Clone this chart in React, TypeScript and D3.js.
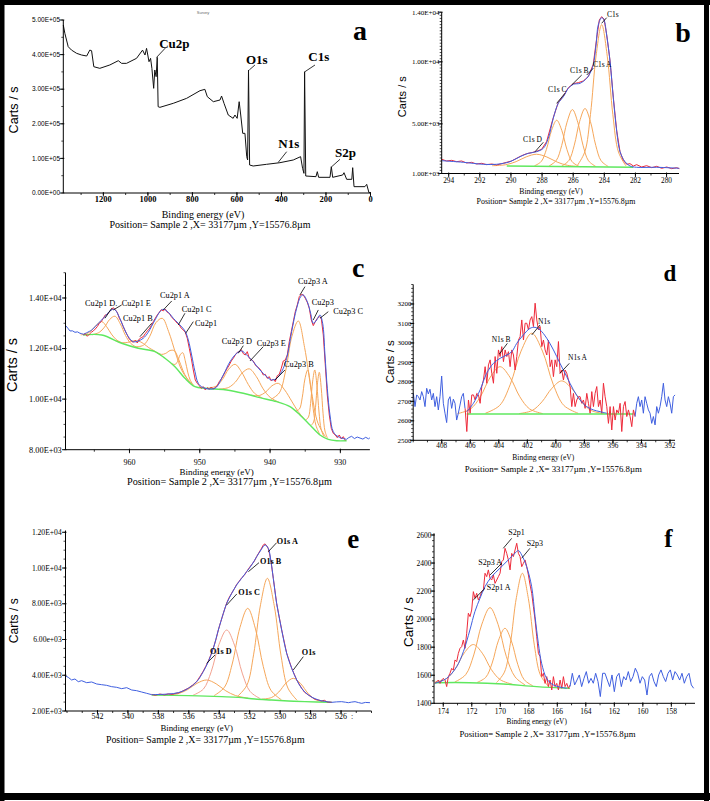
import React from "react";
import * as d3 from "d3";

type Pt = [number, number];
const zip = (xs: number[], ys: number[]): Pt[] => xs.map((x, i) => [x, ys[i]] as Pt);
const grid = (start: number, step: number, ys: number[]): Pt[] => ys.map((y, i) => [start + i * step, y] as Pt);

const SERIF = "'Liberation Serif','Times New Roman',Times,serif";
const SANS = "'Liberation Sans',Arial,Helvetica,sans-serif";
const BLUE = "#3f5fe0";
const RED = "#ee2a3a";
const GREEN = "#5fe85f";
const ORANGE = "#f6a75a";
const PINK = "#f3a290";

// ================= Panel a : survey =================
const surveyEV = [1380,1373,1358,1343,1320,1298,1275,1261,1253,1243,1216,1171,1133,1118,1096,1051,1024,1013,1006,995,988,982,974,969,963,958,954,946,886,826,766,744,733,706,676,669,658,639,617,609,599,590,583,574,564,556,552,548,543,527,467,407,347,314,305,299,296,291,245,239,233,182,176,170,125,119,107,84,80,74,25,17,7,2];
const surveyCounts = [485500,461500,422900,413000,403600,398800,395900,413000,411300,365000,360300,370000,382400,374700,374700,389200,413000,398800,418000,379500,389200,360300,302500,355500,336200,392100,249500,247600,259200,273600,295700,299600,278400,263900,268800,280300,259200,225400,215800,225400,215800,263900,225400,172400,172400,105000,95400,355500,80900,78000,82900,87600,95400,105000,71300,56800,350600,49100,47200,61600,45300,45300,76100,45300,52000,58700,39500,39500,73200,18300,18300,25000,1000,1000];
const aXTicks = [1200,1000,800,600,400,200,0];
const aYTicks = [0,100000,200000,300000,400000,500000];
const aYLabels = ["0.00E+00","1.00E+05","2.00E+05","3.00E+05","4.00E+05","5.00E+05"];
const aAnnText = ["Cu2p","O1s","C1s","N1s","S2p"];
const aAnnAt: Pt[] = [[949,420500],[559.6,372800],[279.6,381500],[414.4,130000],[159.6,104000]];
const aAnnFrom: Pt[] = [[961,392000],[544.7,355500],[294.4,350600],[414.4,88700],[174.4,76000]];
const aAnnTo: Pt[] = [[920,420000],[519.1,369900],[249.4,369900],[376.6,119400],[137.1,97400]];

// ================= Panel b : C1s =================
const bEnvEV = [294.45,293.06,291.77,290.92,290.06,289.42,288.88,288.35,287.92,287.6,287.28,286.96,286.63,286.31,285.99,285.56,285.13,284.92,284.71,284.53,284.39,284.17,284.02,283.85,283.63,283.42,283.2,282.99,282.67,282.35,281.92,280.63,279.18];
const bEnvCounts = [2034,1903,1742,1742,1951,2354,2628,2757,3031,3837,5449,6658,7190,7867,8190,8270,8673,9076,9745,11357,12969,13557,13372,12163,10011,7061,4369,2757,1951,1605,1500,1500,1419];
const bRaw: Pt[] = [[294.45,2142],[294.13,2008],[293.81,2061],[293.49,1954],[293.17,2008],[292.85,1846],[292.53,1900],[292.21,1766],[291.88,1820],[291.56,1712],[291.24,1766],[290.92,1685],[290.6,1793],[290.28,1900],[289.96,2008],[289.64,2223],[289.31,2438],[288.99,2599],[288.67,2679],[288.35,2787],[288.03,2948],[287.71,3566],[287.28,5501],[286.96,6710],[286.63,7247],[286.31,7919],[285.99,8241],[285.67,8322],[285.35,8456],[285.03,8806],[284.71,9800],[284.49,11896],[284.32,13374],[284.17,13642],[284.02,13454],[283.85,12218],[283.63,10069],[283.42,7113],[283.2,4426],[282.99,2760],[282.78,2061],[282.56,1739],[282.35,1793],[282.13,1605],[281.92,1712],[281.6,1524],[281.28,1631],[280.95,1470],[280.63,1578],[280.31,1416],[279.99,1524],[279.67,1390],[279.35,1470],[279.18,1390]];
const bBackground: Pt[] = [[290.27,1604],[282.14,1500]];
const bCompD = zip([285.49,286.37,287.03,287.69,288.35,289.01,289.67,290.33,291.21],[1553,1659,1921,2329,2551,2346,1956,1710,1627]);
const bCompC = zip([285.63,286.07,286.4,286.73,287.06,287.39,287.72,288.05,288.49],[1580,1947,2929,4466,5294,4475,2946,1972,1617]);
const bCompB = zip([284.555,285.015,285.36,285.705,286.05,286.395,286.74,287.085,287.545],[1574,2026,3235,5130,6151,5139,3253,2052,1612]);
const bCompA = zip([283.745,284.205,284.55,284.895,285.24,285.585,285.93,286.275,286.735],[1564,2025,3262,5197,6241,5206,3280,2052,1603]);
const bCompMain = zip([282.61,283.09,283.45,283.81,284.17,284.53,284.89,285.25,285.73],[1613,2729,5739,10457,12997,10467,5757,2757,1653]);
const bXTicks = [294,292,290,288,286,284,282,280];
const bYTicks = [1000,5000,10000,14000];
const bYLabels = ["1.00E+03","5.00E+03","1.00E+04","1.40E+04"];
const bAnnText = ["C1s","C1s A","C1s B","C1s C","C1s D"];
const bAnnAt: Pt[] = [[283.83,13638],[284.73,9608],[286.2,9124],[287.62,7593],[289.23,3563]];
const bAnnFrom: Pt[] = [[284.17,13106],[285.13,8939],[286.1,8133],[287.06,6658],[288.45,2757]];
const bAnnTo: Pt[] = [[283.85,13557],[284.71,9479],[285.45,8939],[286.53,7464],[287.92,3515]];

// ================= Panel c : Cu2p =================
const cRawStart = 966.57;
const cRawStep = -0.2845;
const cRawCounts = [12538,12590,12485,12564,12643,12696,12775,12867,12999,13065,13197,13329,13355,13461,13527,13619,13527,13434,13197,13065,12867,12696,12538,12379,12300,12248,12327,12221,12379,12432,12472,12590,12696,12775,12907,13065,13197,13329,13434,13540,13487,13566,13434,13395,13263,13171,13092,12999,12933,12801,12736,12643,12406,12010,11615,11153,10757,10626,10533,10428,10494,10362,10454,10388,10480,
  10401,10454,10533,10691,10797,10929,11087,11219,11351,11509,11615,11746,11852,11878,11957,11799,11746,11878,11615,11562,11509,11351,11272,11219,11113,10955,10982,10823,10889,10718,10797,10691,10929,10982,11219,11509,11549,11746,12274,12670,13065,13461,13724,14054,14146,14120,13988,13830,13593,13131,12907,13065,13197,13263,13197,12538,11351,10164,9373,8845,8647,8582,8476,8582,8423,8516,8371];
const cEnv: Pt[] = [[966.57,12564],[965.38,12735],[964.43,13000],[963.49,13262],[962.77,13487],[962.16,13554],[961.59,13329],[960.88,12866],[960.17,12470],[959.46,12272],[958.75,12300],[958.04,12407],[957.33,12644],[956.37,13131],[955.66,13459],[955.19,13554],[954.48,13435],[953.77,13198],[953.06,13000],[952.11,12696],[951.63,12340],[951.16,11746],[950.68,11086],[950.21,10627],[949.5,10453],[947.84,10429],[946.66,10955],[945.7,11481],[944.75,11813],[944.04,11905],[943.33,11746],[942.39,11481],[941.44,11153],[940.48,10888],[939.77,10757],[939.06,10825],[938.35,11086],[937.64,11616],[936.93,12668],[936.22,13594],[935.65,14053],[935.28,14120],[934.71,13855],[934.23,13396],[933.86,13000],[933.37,13131],[932.9,13329],[932.52,13000],[932.19,11746],[931.86,10429],[931.48,9373],[931.01,8712],[930.3,8514],[929.11,8411]];
const cBlueLeft: Pt[] = [[969.08,12907],[968.75,12800],[968.46,12696],[968.1,12700],[967.75,12643],[967.4,12660],[967.04,12604],[966.8,12590],[966.57,12564]];
const cBlueRight: Pt[] = [[929.11,8411],[928.8,8480],[928.4,8530],[928.0,8440],[927.6,8500],[927.2,8460],[926.8,8420],[926.4,8490],[926.0,8430],[925.8,8470]];
const cBackground: Pt[] = [[966.57,12537],[963.95,12537],[961.11,12209],[958.75,12011],[956.37,11877],[954.95,11616],[953.53,11283],[952.11,10824],[950.68,10492],[949.26,10429],[947.84,10401],[946.17,10362],[943.81,10231],[941.44,10057],[939.06,9899],[937.17,9701],[935.75,9373],[934.32,8977],[932.9,8581],[931.72,8411],[930.53,8356],[929.11,8356]];
const cCu2p1D = zip([960.96,961.88,962.57,963.26,963.95,964.64,965.33,966.02,966.94],[12201,12354,12573,12870,13067,12950,12732,12593,12542]);
const cCu2p1E = zip([958.81,959.81,960.56,961.31,962.06,962.81,963.56,964.31,965.31],[12025,12202,12516,12980,13279,13153,12845,12639,12546]);
const cCu2p1B = zip([955.5,956.5,957.25,958.0,958.75,959.5,960.25,961.0,962.0],[11720,11915,12034,12195,12301,12300,12244,12231,12315]);
const cCu2p1A = zip([951.43,952.53,953.43,954.43,955.33,956.23,957.13,958.03,959.23],[10680,11120,11807,12670,13196,13027,12476,12130,12065]);
const cCu2p1C = zip([951.03,951.83,952.43,953.03,953.63,954.23,954.83,955.43,956.23],[10579,10824,11151,11596,11916,11922,11812,11769,11857]);
const cCu2p1 = zip([950.87,951.35,951.71,952.07,952.43,952.79,953.15,953.51,953.99],[10544,10744,11066,11524,11837,11752,11495,11372,11404]);
const cCu2p3D = zip([941.09,942.19,943.09,944.09,944.99,945.89,946.79,947.69,948.89],[10044,10226,10575,11088,11377,11187,10773,10512,10432]);
const cCu2p3E = zip([938.67,939.99,940.98,941.97,942.96,943.95,944.94,945.93,947.25],[9867,10070,10405,10898,11199,11041,10673,10458,10396]);
const cCu2p3X = zip([934.93,936.03,936.93,937.93,938.83,939.73,940.63,941.53,942.73],[9153,9518,9922,10365,10625,10527,10279,10144,10159]);
const cCu2p3A = zip([932.09,933.19,934.09,935.09,935.99,936.89,937.79,938.69,939.89],[8498,9051,10261,12043,13091,12489,11114,10249,9988]);
const cCu2p3B = zip([932.96,933.48,933.87,934.26,934.65,935.04,935.43,935.82,936.34],[8617,8964,9619,10585,11153,10800,10051,9610,9528]);
const cCu2p3 = zip([932.34,932.74,933.04,933.34,933.64,933.94,934.24,934.54,934.94],[8522,8809,9491,10547,11153,10714,9826,9289,9171]);
const cCu2p3C = zip([931.83,932.19,932.46,932.73,933.0,933.27,933.54,933.81,934.17],[8450,8739,9421,10468,11062,10595,9663,9095,8958]);
const cXTicks = [960,950,940,930];
const cYTicks = [8000,10000,12000,14000];
const cYLabels = ["8.00E+03","1.00E+04","1.20E+04","1.40E+04"];
const cAnnText = ["Cu2p1 D.","Cu2p1 E","Cu2p1 B","Cu2p1 A","Cu2p1 C","Cu2p1","Cu2p3 A","Cu2p3","Cu2p3 C","Cu2p3 D","Cu2p3 E","Cu2p3 B"];
const cAnnAt: Pt[] = [[966.33,13685],[961.11,13685],[960.92,13091],[955.66,13981],[952.57,13447],[950.68,12894],[936.03,14555],[934.08,13705],[931.01,13349],[946.88,12181],[941.91,12083],[938.02,11252]];
const cAnnFrom: Pt[] = [[963.49,13198],[962.3,13527],[958.51,12470],[955.19,13527],[953.06,12933],[952.01,12605],[935.75,14120],[933.86,13131],[932.9,13198],[944.52,11814],[942.86,11509],[939.3,10757]];
const cAnnTo: Pt[] = [[962.53,13594],[961.11,13724],[956.84,13000],[953.99,13882],[952.11,13396],[950.92,13064],[935.04,14448],[933.14,13527],[931.72,13459],[943.81,12114],[940.97,12075],[937.88,11153]];

// ================= Panel d : N1s =================
const dStep = -0.1168;
const dBlueLeftStart = 409.99;
const dBlueLeftCounts = [2741,2673,2733,2724,2707,2750,2724,2673,2767,2738,2762,2707,2741,2673,2724,2656,2724,2830,2690,2639,2591,2707,2724,2664,2711,2690,2604,2639,2681,2724,2741,2664];
const dRawStart = 406.36;
const dRawCounts = [2664,2545,2707,2639,2733,2733,2707,2741,2733,2690,2776,2810,2878,2793,2887,2913,2844,2793,2930,2844,2964,2930,2981,2904,2964,2930,2955,2878,2964,2938,2861,2930,3015,3032,3118,3015,3101,3101,3067,3118,3135,3084,3204,3118,3067,3084,2981,3015,2964,2938,3015,2878,2913,2827,2913,2878,3007,2844,2861,2810,2861,2844,2810,2776,2673,2741,2673,2707,2724,2724,2690,2707,2664,2741,2690,2639,2750,2673,2741,2776,2673,2707,2639,2793,2724,2673,2587,2673,2553,2673,2604,2656,2639,2690,2545,2673,2699,2622,2656,2622,2570,2656,2622];
const dBlueRightStart = 394.45;
const dBlueRightCounts = [2622,2690,2724,2673,2707,2639,2724,2690,2656,2639,2587,2622,2579,2673,2639,2673,2724,2793,2707,2673,2724,2690,2639,2724,2733];
const dEnvEV = [406.25,405.78,405.31,404.85,404.38,403.91,403.44,403.09,402.74,402.28,401.81,401.46,401.11,400.64,400.17,399.71,399.24,398.77,398.3,397.84,397.37,396.9,396.43];
const dEnvCounts = [2647,2690,2759,2844,2895,2921,2938,2955,2998,3041,3075,3080,3067,3024,2964,2895,2827,2759,2707,2673,2656,2647,2639];
const dBackground: Pt[] = [[406.25,2635],[394.57,2635]];
const dN1sB = zip([400.92,401.84,402.53,403.22,403.91,404.6,405.29,405.98,406.9],[2637,2661,2724,2824,2878,2824,2724,2661,2637]);
const dN1s = zip([398.44,399.44,400.19,400.94,401.69,402.44,403.19,403.94,404.94],[2639,2679,2788,2958,3050,2958,2788,2679,2639]);
const dN1sA = zip([396.6,397.52,398.21,398.9,399.59,400.28,400.97,401.66,402.58],[2637,2653,2698,2767,2805,2767,2698,2653,2637]);
const dXTicks = [408,406,404,402,400,398,396,394,392];
const dYTicks = [2500,2600,2700,2800,2900,3000,3100,3200];
const dAnnText = ["N1s B","N1s","N1s A"];
const dAnnAt: Pt[] = [[404.5,3005],[401.25,3095],[399.15,2912]];
const dAnnFrom: Pt[] = [[403.96,2943],[401.69,3041],[399.71,2844]];
const dAnnTo: Pt[] = [[403.4,2998],[401.11,3092],[399.06,2895]];

// ================= Panel e : O1s =================
const eBlueLeft: Pt[] = [[544.09,3959],[543.92,3884],[543.70,3735],[543.48,3791],[543.26,3641],[543.04,3697],[542.71,3585],[542.38,3623],[542.05,3511],[541.73,3473],[541.40,3436],[541.07,3362],[540.74,3325],[540.41,3250],[540.08,3306],[539.75,3175],[539.43,3138],[539.10,3063],[538.77,2989],[538.44,2914]];
const eEnv: Pt[] = [[538.44,2914],[537.35,2951],[536.69,3026],[536.03,3269],[535.48,3641],[535.05,4201],[534.72,4761],[534.39,5507],[534.06,6533],[533.73,7466],[533.51,8025],[533.18,8585],[532.86,9051],[532.53,9424],[532.2,9797],[531.87,10170],[531.54,10636],[531.26,11010],[530.99,11289],[530.78,11103],[530.6,10357],[530.45,9424],[530.23,8025],[529.9,6533],[529.57,5227],[529.24,4388],[528.91,3735],[528.59,3269],[528.15,2895],[527.49,2616],[526.61,2485]];
const eBlueRight: Pt[] = [[526.61,2485],[526.3,2510],[525.96,2522],[525.7,2490],[525.52,2466],[525.3,2500],[525.08,2522],[524.85,2470],[524.64,2429],[524.4,2480],[524.1,2466]];
const eRaw: Pt[] = [[538.44,2930],[538.2,2880],[537.9,2950],[537.6,2900],[537.35,2960],[537.1,2930],[536.85,2990],[536.69,3010],[536.4,3120],[536.03,3280],[535.75,3450],[535.48,3650],[535.25,3950],[535.05,4230],[534.9,4480],[534.72,4780],[534.55,5150],[534.39,5520],[534.2,6050],[534.06,6540],[533.9,7000],[533.73,7470],[533.51,8050],[533.35,8350],[533.18,8600],[533.0,8850],[532.86,9080],[532.7,9250],[532.53,9450],[532.35,9600],[532.2,9800],[532.0,10050],[531.87,10200],[531.7,10380],[531.54,10650],[531.4,10850],[531.26,11050],[531.1,11300],[530.99,11350],[530.85,11200],[530.78,11080],[530.7,10800],[530.6,10350],[530.45,9420],[530.23,8020],[529.9,6540],[529.57,5230],[529.24,4390],[528.91,3730],[528.59,3280],[528.4,3050],[528.15,2900],[527.9,2760],[527.7,2650],[527.49,2620],[527.3,2560],[527.1,2600],[526.9,2500],[526.61,2490]];
const eBackground: Pt[] = [[538.44,2895],[536.03,2858],[533.84,2802],[532.75,2765],[531.65,2672],[530.56,2616],[529.46,2560],[528.37,2522],[526.61,2485]];
const eO1sD = zip([532.1,532.94,533.57,534.2,534.83,535.46,536.09,536.72,537.56],[2718,2867,3129,3518,3735,3550,3193,2965,2889]);
const eO1sX = zip([531.3,531.98,532.49,533.0,533.51,534.02,534.53,535.04,535.72],[2688,3097,4120,5688,6533,5722,4197,3230,2884]);
const eO1sC = zip([529.92,530.6,531.11,531.62,532.13,532.64,533.15,533.66,534.34],[2629,3151,4496,6590,7745,6676,4630,3330,2861]);
const eO1sB = zip([528.89,529.49,529.94,530.39,530.84,531.29,531.74,532.19,532.79],[2603,3282,5084,7900,9424,7946,5180,3438,2829]);
const eO1s = zip([527.05,527.69,528.17,528.65,529.13,529.61,530.09,530.57,531.21],[2506,2644,2989,3529,3828,3565,3063,2753,2661]);
const eXTicks = [542,540,538,536,534,532,530,528,526];
const eYTicks = [2000,4000,6000,8000,10000,12000];
const eYLabels = ["2.00E+03","4.00E+03","6.00e+03","8.00E+03","1.00E+04","1.20E+04"];
const eAnnText = ["O1s A","O1s B","O1s C","O1s D","O1s"];
const eAnnAt: Pt[] = [[530.23,11362],[531.32,10243],[532.75,8508],[534.61,5190],[528.58,5117]];
const eAnnFrom: Pt[] = [[530.78,10914],[532.09,9795],[533.51,7932],[534.83,4669],[529.14,4294]];
const eAnnTo: Pt[] = [[530.23,11418],[531.39,10299],[532.85,8548],[534.28,5134],[528.48,5039]];

// ================= Panel f : S2p =================
const fRawStart = 174.58;
const fRawStep = -0.117;
const fRawCounts = [1542,1554,1566,1542,1566,1578,1566,1519,1590,1614,1649,1637,1709,1697,1756,1792,1804,1851,1792,1899,2042,2018,2065,2196,2149,2184,2137,2160,2196,2208,2327,2303,2351,2291,2279,2315,2255,2279,2303,2327,2410,2422,2505,2469,2422,2351,2469,2446,2493,2541,2469,2446,2374,2398,2422,2374,2315,2244,2184,2089,1994,1875,1756,1733,1590,1614,1542,1590,1519,1566,1495,1590,1519,1542,1495,1566,1507,1590,1519,1542,1507,1530];
const fBlueStart = 165.11;
const fBlueStep = -0.1637;
const fBlueCounts = [1519,1614,1531,1566,1602,1519,1578,1626,1543,1578,1543,1614,1555,1448,1614,1614,1566,1519,1602,1483,1590,1614,1519,1590,1566,1626,1555,1590,1650,1614,1543,1590,1566,1459,1590,1614,1555,1519,1602,1638,1590,1555,1614,1638,1566,1626,1602,1566,1614,1543,1590,1614,1531,1507];
const fEnvEV = [174.58,173.76,173.06,172.59,172.13,171.78,171.42,171.07,170.61,170.02,169.44,168.97,168.73,168.5,168.15,167.8,167.56,167.33,167.1,166.75,166.28,165.34];
const fEnvCounts = [1543,1578,1661,1768,1923,2054,2149,2232,2303,2363,2422,2470,2489,2458,2374,2232,2018,1828,1685,1578,1531,1507];
const fBackground: Pt[] = [[174.58,1547],[172.13,1547],[169.79,1538],[167.45,1519],[165.11,1507]];
const fS1 = zip([169.16,170.0,170.63,171.26,171.89,172.52,173.15,173.78,174.62],[1536,1568,1641,1757,1819,1760,1647,1576,1550]);
const fS2 = zip([168.25,168.96,169.58,170.15,170.72,171.29,171.86,172.43,173.19],[1530,1588,1735,1961,2082,1965,1745,1604,1552]);
const fS3 = zip([167.72,168.32,168.77,169.22,169.67,170.12,170.57,171.02,171.62],[1525,1568,1676,1844,1935,1850,1687,1585,1549]);
const fS4 = zip([166.63,167.19,167.61,168.03,168.45,168.87,169.29,169.71,170.27],[1522,1603,1814,2147,2327,2154,1828,1622,1547]);
const fXTicks = [174,172,170,168,166,164,162,160,158];
const fYTicks = [1400,1600,1800,2000,2200,2400,2600];
const fAnnText = ["S2p1","S2p3","S2p3 A","S2p1 A"];
const fAnnAt: Pt[] = [[169.44,2602],[168.15,2524],[171.54,2388],[170.95,2210]];
const fAnnFrom: Pt[] = [[169.79,2505],[168.5,2434],[170.72,2315],[171.89,2137]];
const fAnnTo: Pt[] = [[169.2,2576],[167.92,2505],[169.9,2398],[171.07,2220]];

const POSITION = "Position= Sample 2 ,X= 33177\u00b5m ,Y=15576.8\u00b5m";

// ================= Drawing =================
interface LineSpec { pts: Pt[]; color: string; w?: number; smooth?: boolean }
interface TextSpec { t: string; x: number; y: number; size: number; font: string; bold?: boolean; anchor?: string; rotate?: boolean; fill?: string }
interface PanelSpec {
  key: string;
  x: [number, number]; xr: [number, number];
  y: [number, number]; yr: [number, number];
  xTicks: number[]; xMinor: number; xLabelY: number; xLabelSize: number; xLabelBold?: boolean;
  yTicks: number[]; yLabels: string[]; yMinor: number; yLabelX: number; yLabelSize: number; yLabelFont: string;
  lines: LineSpec[];
  annText: string[]; annAt: Pt[]; annFrom: Pt[]; annTo: Pt[]; annSize: number; annBold?: boolean;
  texts: TextSpec[];
}

function Panel({ s }: { s: PanelSpec }) {
  const sx = d3.scaleLinear().domain(s.x).range(s.xr);
  const sy = d3.scaleLinear().domain(s.y).range(s.yr);
  const mk = (smooth?: boolean) =>
    d3.line<Pt>().x((d) => sx(d[0])).y((d) => sy(d[1])).curve(smooth ? d3.curveCatmullRom.alpha(0.5) : d3.curveLinear);
  const [xa, xb] = s.xr;
  const [ya, yb] = s.yr;
  const xlo = Math.min(s.x[0], s.x[1]);
  const xhi = Math.max(s.x[0], s.x[1]);
  const xMinor = d3.range(Math.ceil(xlo / s.xMinor - 1e-9) * s.xMinor, xhi + 1e-9, s.xMinor);
  const yMinor = d3.range(Math.ceil(s.y[0] / s.yMinor - 1e-9) * s.yMinor, s.y[1] + 1e-9, s.yMinor);
  return (
    <g>
      {s.lines.map((l, i) => (
        <path key={"l" + i} d={mk(l.smooth)(l.pts) || ""} fill="none" stroke={l.color} strokeWidth={l.w ?? 1} strokeLinejoin="round" />
      ))}
      <line x1={xa} y1={ya} x2={xb} y2={ya} stroke="#000" strokeWidth={1} />
      <line x1={xa} y1={ya} x2={xa} y2={yb} stroke="#000" strokeWidth={1} />
      {xMinor.map((v, i) => (
        <line key={"xm" + i} x1={sx(v)} x2={sx(v)} y1={ya} y2={ya + 2} stroke="#000" strokeWidth={0.8} />
      ))}
      {s.xTicks.map((v, i) => (
        <g key={"xt" + i}>
          <line x1={sx(v)} x2={sx(v)} y1={ya - 1} y2={ya + 3.5} stroke="#000" strokeWidth={0.9} />
          <text x={sx(v)} y={s.xLabelY} textAnchor="middle" fontFamily={SERIF} fontSize={s.xLabelSize} fontWeight={s.xLabelBold ? "bold" : "normal"}>{String(v)}</text>
        </g>
      ))}
      {yMinor.map((v, i) => (
        <line key={"ym" + i} x1={xa - 2} x2={xa} y1={sy(v)} y2={sy(v)} stroke="#000" strokeWidth={0.7} />
      ))}
      {s.yTicks.map((v, i) => (
        <g key={"yt" + i}>
          <line x1={xa - 3.5} x2={xa + 1} y1={sy(v)} y2={sy(v)} stroke="#000" strokeWidth={0.9} />
          <text x={s.yLabelX} y={sy(v)} dy="0.35em" textAnchor="end" fontFamily={s.yLabelFont} fontSize={s.yLabelSize}>{s.yLabels[i]}</text>
        </g>
      ))}
      {s.annText.map((t, i) => (
        <g key={"an" + i}>
          <line x1={sx(s.annFrom[i][0])} y1={sy(s.annFrom[i][1])} x2={sx(s.annTo[i][0])} y2={sy(s.annTo[i][1])} stroke="#000" strokeWidth={0.8} />
          <text x={sx(s.annAt[i][0])} y={sy(s.annAt[i][1])} fontFamily={SERIF} fontSize={s.annSize} fontWeight={s.annBold ? "bold" : "normal"}>{t}</text>
        </g>
      ))}
      {s.texts.map((t, i) =>
        t.rotate ? (
          <text key={"tx" + i} transform={`translate(${t.x},${t.y}) rotate(-90)`} textAnchor="middle" dominantBaseline="central" fontFamily={t.font} fontSize={t.size} fontWeight={t.bold ? "bold" : "normal"} fill={t.fill || "#000"}>{t.t}</text>
        ) : (
          <text key={"tx" + i} x={t.x} y={t.y} textAnchor={t.anchor || "middle"} fontFamily={t.font} fontSize={t.size} fontWeight={t.bold ? "bold" : "normal"} fill={t.fill || "#000"}>{t.t}</text>
        )
      )}
    </g>
  );
}

const panels: PanelSpec[] = [
  {
    key: "a",
    x: [1380, 0], xr: [63.3, 370.5], y: [0, 500000], yr: [193, 20],
    xTicks: aXTicks, xMinor: 100, xLabelY: 201.5, xLabelSize: 8.5, xLabelBold: true,
    yTicks: aYTicks, yLabels: aYLabels, yMinor: 50000, yLabelX: 60, yLabelSize: 6.5, yLabelFont: SANS,
    lines: [{ pts: zip(surveyEV, surveyCounts), color: "#111", w: 1 }],
    annText: aAnnText, annAt: aAnnAt, annFrom: aAnnFrom, annTo: aAnnTo, annSize: 13, annBold: true,
    texts: [
      { t: "a", x: 360, y: 39.5, size: 28, font: SERIF, bold: true },
      { t: "Carts / s", x: 14, y: 110, size: 12.6, font: SANS, rotate: true },
      { t: "Binding energy (eV)", x: 203, y: 217.5, size: 10, font: SERIF },
      { t: POSITION, x: 210, y: 227.5, size: 10, font: SERIF },
      { t: "Survey", x: 203, y: 14, size: 4, font: SANS, fill: "#666" },
    ],
  },
  {
    key: "b",
    x: [294.45, 279.2], xr: [441.7, 679], y: [1000, 14000], yr: [173.5, 12.2],
    xTicks: bXTicks, xMinor: 1, xLabelY: 182.5, xLabelSize: 7.3,
    yTicks: bYTicks, yLabels: bYLabels, yMinor: 250, yLabelX: 439.5, yLabelSize: 7, yLabelFont: SERIF,
    lines: [
      { pts: bCompD, color: ORANGE, smooth: true },
      { pts: bCompC, color: ORANGE, smooth: true },
      { pts: bCompB, color: ORANGE, smooth: true },
      { pts: bCompA, color: ORANGE, smooth: true },
      { pts: bCompMain, color: ORANGE, smooth: true },
      { pts: bBackground, color: GREEN, w: 1.4 },
      { pts: bRaw, color: RED, w: 1 },
      { pts: zip(bEnvEV, bEnvCounts), color: BLUE, w: 1, smooth: true },
    ],
    annText: bAnnText, annAt: bAnnAt, annFrom: bAnnFrom, annTo: bAnnTo, annSize: 7.5,
    texts: [
      { t: "b", x: 683, y: 41.5, size: 28, font: SERIF, bold: true },
      { t: "Carts / s", x: 401.7, y: 96.7, size: 11, font: SANS, rotate: true },
      { t: "Binding energy (eV)", x: 551, y: 194.2, size: 7.7, font: SERIF },
      { t: POSITION, x: 556, y: 204.4, size: 7.9, font: SERIF },
    ],
  },
  {
    key: "c",
    x: [969.1, 925.8], xr: [65.5, 369.9], y: [8000, 15000], yr: [449.7, 272.7],
    xTicks: cXTicks, xMinor: 5, xLabelY: 464.5, xLabelSize: 8, 
    yTicks: cYTicks, yLabels: cYLabels, yMinor: 500, yLabelX: 61.7, yLabelSize: 8.3, yLabelFont: SERIF,
    lines: [
      { pts: cCu2p1D, color: ORANGE, smooth: true },
      { pts: cCu2p1E, color: ORANGE, smooth: true },
      { pts: cCu2p1B, color: ORANGE, smooth: true },
      { pts: cCu2p1A, color: ORANGE, smooth: true },
      { pts: cCu2p1C, color: ORANGE, smooth: true },
      { pts: cCu2p1, color: ORANGE, smooth: true },
      { pts: cCu2p3D, color: ORANGE, smooth: true },
      { pts: cCu2p3E, color: ORANGE, smooth: true },
      { pts: cCu2p3X, color: ORANGE, smooth: true },
      { pts: cCu2p3A, color: ORANGE, smooth: true },
      { pts: cCu2p3B, color: ORANGE, smooth: true },
      { pts: cCu2p3, color: ORANGE, smooth: true },
      { pts: cCu2p3C, color: ORANGE, smooth: true },
      { pts: cBackground, color: GREEN, w: 1.4, smooth: true },
      { pts: grid(cRawStart, cRawStep, cRawCounts), color: RED, w: 1 },
      { pts: cEnv, color: BLUE, w: 1, smooth: true },
      { pts: cBlueLeft, color: BLUE, w: 1 },
      { pts: cBlueRight, color: BLUE, w: 1 },
    ],
    annText: cAnnText, annAt: cAnnAt, annFrom: cAnnFrom, annTo: cAnnTo, annSize: 8.3,
    texts: [
      { t: "c", x: 358.3, y: 276.5, size: 28, font: SERIF, bold: true },
      { t: "Carts / s", x: 12, y: 365, size: 14.5, font: SANS, rotate: true },
      { t: "Binding energy (eV)", x: 216.7, y: 474.7, size: 9, font: SERIF },
      { t: POSITION, x: 229.5, y: 485, size: 10.2, font: SERIF },
    ],
  },
  {
    key: "d",
    x: [410, 391.65], xr: [413.2, 675], y: [2500, 3300], yr: [440.3, 284.5],
    xTicks: dXTicks, xMinor: 1, xLabelY: 447.8, xLabelSize: 7.2,
    yTicks: dYTicks, yLabels: dYTicks.map(String), yMinor: 20, yLabelX: 411.5, yLabelSize: 7, yLabelFont: SERIF,
    lines: [
      { pts: dN1sB, color: ORANGE, smooth: true },
      { pts: dN1s, color: ORANGE, smooth: true },
      { pts: dN1sA, color: ORANGE, smooth: true },
      { pts: dBackground, color: GREEN, w: 1.4 },
      { pts: grid(dBlueLeftStart, dStep, dBlueLeftCounts), color: BLUE, w: 1 },
      { pts: grid(dRawStart, dStep, dRawCounts), color: RED, w: 1 },
      { pts: grid(dBlueRightStart, dStep, dBlueRightCounts), color: BLUE, w: 1 },
      { pts: zip(dEnvEV, dEnvCounts), color: BLUE, w: 1, smooth: true },
    ],
    annText: dAnnText, annAt: dAnnAt, annFrom: dAnnFrom, annTo: dAnnTo, annSize: 7.5,
    texts: [
      { t: "d", x: 670, y: 280.5, size: 23, font: SERIF, bold: true },
      { t: "Carts / s", x: 389, y: 361.7, size: 11.6, font: SANS, rotate: true },
      { t: "Binding energy (eV)", x: 543.3, y: 459.8, size: 7.5, font: SERIF },
      { t: POSITION, x: 553.3, y: 472, size: 8.8, font: SERIF },
    ],
  },
  {
    key: "e",
    x: [544.1, 524.0], xr: [65.5, 371.5], y: [2000, 12100], yr: [711, 530.5],
    xTicks: eXTicks, xMinor: 1, xLabelY: 719, xLabelSize: 8,
    yTicks: eYTicks, yLabels: eYLabels, yMinor: 500, yLabelX: 61.7, yLabelSize: 7.6, yLabelFont: SERIF,
    lines: [
      { pts: eO1sD, color: ORANGE, smooth: true },
      { pts: eO1sX, color: PINK, smooth: true },
      { pts: eO1sC, color: ORANGE, smooth: true },
      { pts: eO1sB, color: ORANGE, smooth: true },
      { pts: eO1s, color: ORANGE, smooth: true },
      { pts: eBackground, color: GREEN, w: 1.4, smooth: true },
      { pts: eBlueLeft, color: BLUE, w: 1 },
      { pts: eRaw, color: RED, w: 1 },
      { pts: eEnv, color: BLUE, w: 1, smooth: true },
      { pts: eBlueRight, color: BLUE, w: 1 },
    ],
    annText: eAnnText, annAt: eAnnAt, annFrom: eAnnFrom, annTo: eAnnTo, annSize: 8.2, annBold: true,
    texts: [
      { t: "e", x: 353.3, y: 547.5, size: 27, font: SERIF, bold: true },
      { t: "Carts / s", x: 14, y: 620.8, size: 12.1, font: SANS, rotate: true },
      { t: "Binding energy (eV)", x: 196.7, y: 731.2, size: 8.8, font: SERIF },
      { t: POSITION, x: 205.3, y: 742.6, size: 9.9, font: SERIF },
      { t: ":", x: 352, y: 719, size: 8, font: SERIF },
    ],
  },
  {
    key: "f",
    x: [174.65, 156.34], xr: [434, 695], y: [1400, 2612], yr: [703.3, 533.3],
    xTicks: fXTicks, xMinor: 1, xLabelY: 714, xLabelSize: 7.5,
    yTicks: fYTicks, yLabels: fYTicks.map(String), yMinor: 40, yLabelX: 431.5, yLabelSize: 7.5, yLabelFont: SERIF,
    lines: [
      { pts: fS1, color: ORANGE, smooth: true },
      { pts: fS2, color: ORANGE, smooth: true },
      { pts: fS3, color: ORANGE, smooth: true },
      { pts: fS4, color: ORANGE, smooth: true },
      { pts: fBackground, color: GREEN, w: 1.4, smooth: true },
      { pts: grid(fRawStart, fRawStep, fRawCounts), color: RED, w: 1 },
      { pts: grid(fBlueStart, fBlueStep, fBlueCounts), color: BLUE, w: 1 },
      { pts: zip(fEnvEV, fEnvCounts), color: BLUE, w: 1, smooth: true },
    ],
    annText: fAnnText, annAt: fAnnAt, annFrom: fAnnFrom, annTo: fAnnTo, annSize: 8,
    texts: [
      { t: "f", x: 668.3, y: 546.7, size: 25, font: SERIF, bold: true },
      { t: "Carts / s", x: 408, y: 622, size: 13.4, font: SANS, rotate: true },
      { t: "Binding energy (eV)", x: 536.7, y: 724.1, size: 7.3, font: SERIF },
      { t: POSITION, x: 547.5, y: 737, size: 8.75, font: SERIF },
    ],
  },
];

export default function App() {
  return (
    <svg
      width={710}
      height={801}
      viewBox="0 0 710 801"
      xmlns="http://www.w3.org/2000/svg"
      style={{ position: "absolute", left: 0, top: 0, background: "#fff" }}
    >
      <rect x={0} y={0} width={710} height={801} fill="#fff" />
      {panels.map((p) => (
        <Panel key={p.key} s={p} />
      ))}
      <rect x={0} y={0} width={710} height={5} fill="#000" />
      <rect x={0} y={0} width={4.5} height={801} fill="#000" />
      <rect x={704} y={0} width={5} height={801} fill="#000" />
      <rect x={0} y={793} width={710} height={7} fill="#000" />
    </svg>
  );
}
